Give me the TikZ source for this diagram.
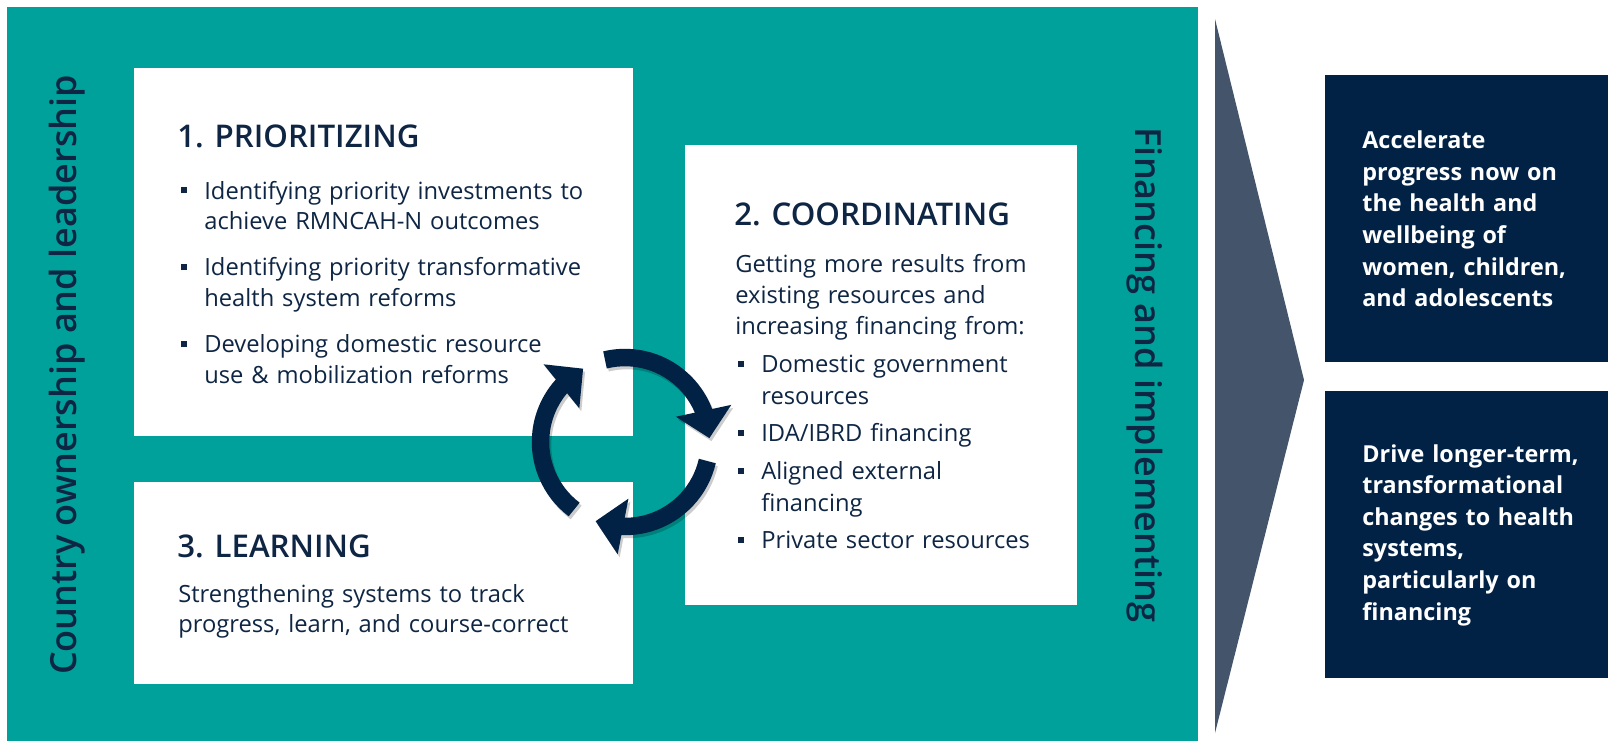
\documentclass[tikz,border=0pt]{standalone}
\usepackage{fontspec}
\setmainfont{Open Sans}
\IfFontExistsTF{Open Sans SemiBold}{\newfontface\semifont{Open Sans SemiBold}}{%
  \IfFontExistsTF{Open Sans Semibold}{\newfontface\semifont{Open Sans Semibold}}{\newcommand{\semifont}{\bfseries}}}
\usetikzlibrary{arrows.meta,bending,positioning}

\definecolor{lagoon}{RGB}{0,161,154}
\definecolor{midnight}{RGB}{1,34,69}
\definecolor{slate}{RGB}{68,84,106}
\definecolor{ink}{RGB}{14,38,68}

\newcommand{\sqbullet}{\makebox[0.46cm][l]{\raisebox{0.24em}{\rule{0.12cm}{0.12cm}}}}
\newcommand{\bitem}[1]{\hangindent=0.46cm\hangafter=1\sqbullet#1\par}

\begin{document}
\begin{tikzpicture}[x=0.02cm,y=-0.02cm,
  panel/.style={fill=white,inner sep=0pt},
  heading/.style={anchor=base west,inner sep=0pt,text=ink,font=\fontsize{17.8}{21}\selectfont\semifont},
  bodytext/.style={anchor=base west,inner sep=0pt,text=ink,text width=9cm,align=left,font=\fontsize{13.5}{17.6}\selectfont},
  sidetext/.style={inner sep=0pt,text=ink,font=\fontsize{20.5}{25}\selectfont\semifont},
  goal/.style={fill=midnight,inner sep=0pt,minimum width=5.66cm,minimum height=5.74cm},
  goaltext/.style={anchor=base west,inner sep=0pt,text=white,text width=5.5cm,align=left,font=\fontsize{13.3}{18}\selectfont\bfseries},
  turn/.style={draw=midnight,line width=0.35cm,-{Triangle[width=1.1cm,length=0.56cm,flex]}}]
\useasboundingbox (0,0) rectangle (1608,741);
\fill[lagoon] (7,7) rectangle (1198,741);

% three steps
\node[panel,minimum width=9.98cm,minimum height=7.36cm] (prio) at (383.3,251.9) {};
\node[panel,minimum width=9.98cm,minimum height=4.04cm] (learn) at (383.3,582.9) {};
\node[panel,minimum width=7.84cm,minimum height=9.2cm] (coord) at (881,374.9) {};

\node[heading] (prio-t) at (177,147) {1. PRIORITIZING};
\node[bodytext] (prio-b) at (181,199) {\parskip=8.6pt
  \bitem{Identifying priority investments to\newline achieve RMNCAH-N outcomes}
  \bitem{Identifying priority transformative\newline health system reforms}
  \bitem{Developing domestic resource\newline use \& mobilization reforms}};

\node[heading] (coord-t) at (734,225) {2. COORDINATING};
\node[bodytext,text width=7cm,font=\fontsize{13.5}{17.9}\selectfont] (coord-b) at (735,272) {\parskip=3.6pt
  Getting more results from\newline existing resources and\newline increasing financing from:\par
  \leftskip=0.06cm
  \bitem{Domestic government\newline resources}
  \bitem{IDA/IBRD financing}
  \bitem{Aligned external\newline financing}
  \bitem{Private sector resources}};

\node[heading] (learn-t) at (177,557) {3. LEARNING};
\node[bodytext] (learn-b) at (178,602) {Strengthening systems to track\newline progress, learn, and course-correct};

% side labels
\node[sidetext,rotate=90] (own) at (67,375) {Country ownership and leadership};
\node[sidetext,rotate=-90] (fin) at (1145,375) {Financing and implementing};

% cycle, with a soft shadow first
\coordinate (hub) at (625,442);
\begin{scope}[transparency group,opacity=0.2,transform canvas={shift={(2,3)}}]
  \foreach \a/\b in {103.7/2.6,-13/-110.4,-127/-240.3}
    \draw[turn,draw=black] ([shift={(\a:1.69cm)}]hub) arc[start angle=\a,end angle=\b,radius=1.69cm];
\end{scope}
\foreach \a/\b in {103.7/2.6,-13/-110.4,-127/-240.3}
  \draw[turn] ([shift={(\a:1.69cm)}]hub) arc[start angle=\a,end angle=\b,radius=1.69cm];

% outcomes
\fill[slate] (1215,19) -- (1304,380) -- (1215,733) -- cycle;
\node[goal] (near) at (1466.5,218.5) {};
\node[goal] (far) at (1466.5,534.5) {};
\node[goaltext] (near-t) at (1362,148.6) {Accelerate\\progress now on\\the health and\\wellbeing of\\women, children,\\and adolescents};
\node[goaltext] (far-t) at (1362,462) {Drive longer-term,\\transformational\\changes to health\\systems,\\particularly on\\financing};
\end{tikzpicture}
\end{document}
